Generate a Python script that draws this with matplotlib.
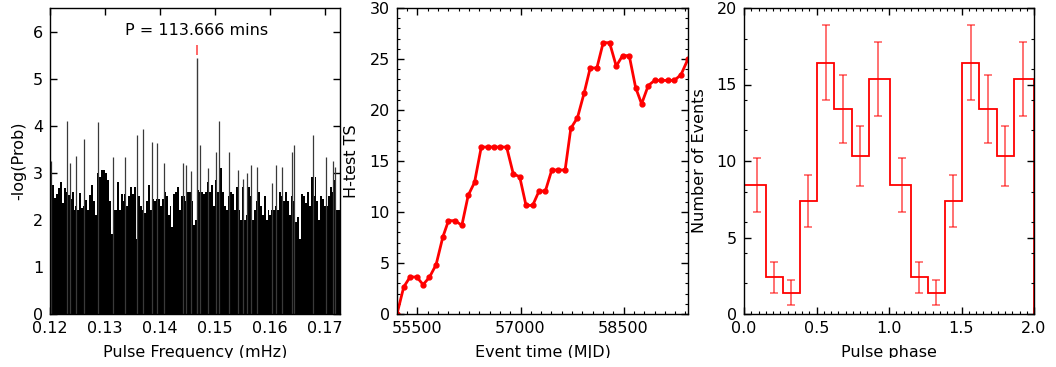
import numpy as np
import matplotlib
matplotlib.use('Agg')
import matplotlib.pyplot as plt
from matplotlib.ticker import MultipleLocator
from matplotlib.patches import Rectangle

plt.rcParams['font.family'] = ['DejaVu Sans']
plt.rcParams['font.size'] = 11.5

# ---------------- Panel 1: periodogram ----------------
freq_min, freq_max = 0.12, 0.1727
# upper edge of the dense noise (read left to right, ~2 px steps)
noise_env = [
    2.75, 2.75, 2.46, 2.55, 2.67, 2.8, 2.36, 2.67, 2.6, 2.53, 2.45, 2.6, 2.2,
    2.3, 2.2, 2.57, 2.25, 2.3, 2.43, 2.2, 2.53, 2.75, 2.4, 2.1, 3.0,
    2.9, 3.05, 3.05, 3.0, 2.85, 2.4, 1.7, 2.2, 2.2, 2.8, 2.2, 2.55, 2.4,
    2.55, 2.3, 2.5, 2.7, 2.55, 2.7, 1.6, 2.5, 2.3, 2.2, 2.15, 2.4,
    2.75, 2.2, 2.45, 2.4, 2.45, 2.45, 2.3, 2.45, 2.6, 2.5, 2.1, 2.3, 1.85,
    2.55, 2.6, 2.7, 2.2, 2.5, 2.5, 2.4, 2.6, 2.6, 2.4, 1.9, 2.0,
    2.64, 2.6, 2.6, 2.55, 2.6, 2.8, 2.6, 2.75, 2.3, 2.85, 2.6, 2.9, 3.1,
    2.6, 2.3, 2.2, 2.5, 2.6, 2.55, 2.2, 2.7, 2.2, 2.0, 2.7, 2.0,
    2.1, 2.7, 2.5, 2.0, 2.2, 2.4, 2.6, 2.3, 2.1, 2.5, 2.0, 2.2, 2.1, 2.2,
    2.2, 2.3, 2.2, 2.6, 2.5, 2.4, 2.6, 2.4, 2.1, 2.5, 2.4,
    1.95, 2.05, 1.6, 2.55, 2.5, 2.35, 2.6, 2.3, 2.9, 2.5, 2.9, 2.4, 2.0,
    2.5, 2.45, 2.3, 2.3, 2.5, 2.7, 2.6, 2.85, 2.2, 2.2,
]
spike_freq = [0.12018, 0.12315, 0.12369, 0.12478, 0.12618, 0.12869, 0.1314,
              0.13358, 0.13587, 0.13696, 0.1386, 0.13945, 0.14073, 0.14418,
              0.14473, 0.14569, 0.14727, 0.14867, 0.15018, 0.15067, 0.1526,
              0.15418, 0.15504, 0.15587, 0.15649, 0.15758, 0.16031, 0.16115,
              0.16224, 0.16405, 0.16442, 0.16787, 0.17013, 0.17151, 0.17187]
spike_pow = [3.24, 4.09, 3.2, 3.35, 3.72, 4.07, 3.33, 3.33, 3.8, 3.93, 3.66,
             3.63, 3.2, 3.2, 3.17, 3.03, 3.6, 3.1, 3.45, 4.09, 3.45, 3.06,
             2.87, 3.0, 3.17, 3.12, 2.78, 3.17, 3.13, 3.45, 3.6, 3.8, 3.33,
             3.26, 3.13]
peak_freq = 0.14663
peak_pow = 5.43
peak_mark = 5.6
period_text = 'P = 113.666 mins'

# ---------------- Panel 2: H-test TS evolution ----------------
mjd = [55203, 55301, 55393, 55490, 55583, 55675, 55772, 55870, 55952, 56045,
       56147, 56239, 56331, 56429, 56521, 56609, 56706, 56798, 56895, 56988,
       57080, 57177, 57270, 57362, 57455, 57552, 57649, 57732, 57829, 57926,
       58014, 58111, 58203, 58296, 58393, 58485, 58582, 58675, 58762, 58859,
       58952, 59049, 59141, 59238, 59335, 59437]
hts = [0.0, 2.65, 3.63, 3.63, 2.88, 3.6, 4.84, 7.55, 9.15, 9.15,
       8.7, 11.63, 12.9, 16.37, 16.37, 16.37, 16.37, 16.37, 13.73, 13.46,
       10.65, 10.65, 12.06, 12.06, 14.12, 14.12, 14.12, 18.2, 19.25, 21.67,
       24.12, 24.12, 26.6, 26.6, 24.3, 25.33, 25.33, 22.2, 20.6, 22.4,
       22.9, 22.9, 22.9, 22.9, 23.46, 25.0]

# ---------------- Panel 3: pulse profile ----------------
phase = [0.09, 0.209, 0.324, 0.444, 0.563, 0.683, 0.802, 0.926,
         1.09, 1.209, 1.324, 1.444, 1.563, 1.683, 1.802, 1.926]
counts = [8.41, 2.40, 1.39, 7.39, 16.43, 13.42, 10.35, 15.36,
          8.41, 2.40, 1.39, 7.39, 16.43, 13.42, 10.35, 15.36]
errs = [1.77, 1.03, 0.83, 1.70, 2.46, 2.23, 1.97, 2.41,
        1.77, 1.03, 0.83, 1.70, 2.46, 2.23, 1.97, 2.41]

W, H = 1056, 367
fig = plt.figure(figsize=(W / 100, H / 100), dpi=100)


def frac(l, r, t, b):
    return [l / W, (H - b) / H, (r - l) / W, (b - t) / H]


def style(ax):
    ax.tick_params(which='both', direction='in', top=True, right=True)
    ax.tick_params(which='major', length=5, width=1, labelsize=11.5)
    ax.tick_params(axis='x', which='major', pad=5)
    ax.tick_params(axis='y', which='major', pad=5)
    ax.tick_params(which='minor', length=2.5, width=0.8)
    for s in ax.spines.values():
        s.set_linewidth(1.0)


# Panel 1
ax1 = fig.add_axes(frac(50, 340, 8, 314))
n = len(noise_env)
edges = np.linspace(freq_min, freq_max, n + 1)
ax1.bar(edges[:-1], noise_env, width=np.diff(edges), align='edge',
        color='black', linewidth=0)
ax1.vlines(spike_freq, 0, spike_pow, color='#3a3a3a', linewidth=0.9)
ax1.vlines([peak_freq], 0, [peak_pow], color='#3a3a3a', linewidth=1.0)
ax1.plot([peak_freq], [peak_mark], marker='|', color='red', alpha=0.7,
         markersize=7, markeredgewidth=1.2, linestyle='none')
ax1.text(peak_freq, 6.02, period_text, ha='center', va='center', fontsize=11.5)
ax1.set_xlim(freq_min, freq_max)
ax1.set_ylim(0, 6.5)
ax1.xaxis.set_major_locator(MultipleLocator(0.01))
ax1.yaxis.set_major_locator(MultipleLocator(1))
ax1.set_xlabel('Pulse Frequency (mHz)', labelpad=6.5)
ax1.set_ylabel('-log(Prob)', labelpad=5)
style(ax1)

# Panel 2
ax2 = fig.add_axes(frac(397, 688, 8, 314))
ax2.plot(mjd, hts, color='red', linewidth=2, marker='o', markersize=3.5,
         markeredgecolor='red', markerfacecolor='red')
ax2.set_xlim(min(mjd), max(mjd))
ax2.set_ylim(0, 30)
ax2.xaxis.set_major_locator(MultipleLocator(1500))
ax2.xaxis.set_minor_locator(MultipleLocator(150))
ax2.yaxis.set_major_locator(MultipleLocator(5))
ax2.yaxis.set_minor_locator(MultipleLocator(1))
ax2.set_xlabel('Event time (MJD)', labelpad=6.5)
ax2.set_ylabel('H-test TS', labelpad=8)
style(ax2)

# Panel 3
ax3 = fig.add_axes(frac(744, 1034, 8, 314))
ph = np.array(phase)
step_edges = np.concatenate([[0.0], (ph[:-1] + ph[1:]) / 2, [2.0]])
ax3.stairs(counts, step_edges, color='red', linewidth=1.3)
ax3.errorbar(phase, counts, yerr=errs, fmt='none', ecolor='red', alpha=0.6,
             elinewidth=1.3, capsize=3.2, capthick=1.2)
ax3.set_xlim(0, 2)
ax3.set_ylim(0, 20)
ax3.xaxis.set_major_locator(MultipleLocator(0.5))
ax3.xaxis.set_minor_locator(MultipleLocator(0.05))
ax3.yaxis.set_major_locator(MultipleLocator(5))
ax3.yaxis.set_minor_locator(MultipleLocator(2))
ax3.set_xlabel('Pulse phase', labelpad=6.5)
ax3.set_ylabel('Number of Events', labelpad=7)
style(ax3)

# the reference image is cropped just below the x-axis labels
fig.add_artist(Rectangle((0, 0), 1, 9.5 / H, transform=fig.transFigure,
                         facecolor='white', edgecolor='none', zorder=10))

fig.savefig('out.png', dpi=100)
